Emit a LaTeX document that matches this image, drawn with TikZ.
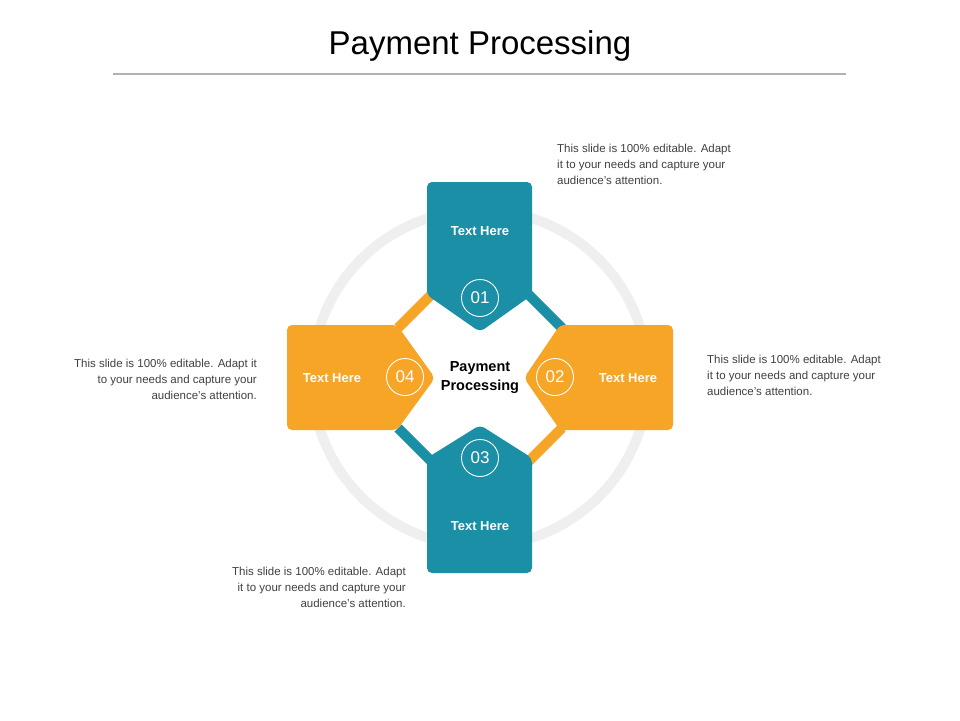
\documentclass[tikz,border=0pt]{standalone}
\usepackage{fontspec}
\setmainfont{Liberation Sans}
\definecolor{teal1}{HTML}{1A8FA5}
\definecolor{orng}{HTML}{F7A527}
\definecolor{ring}{HTML}{EFEFEF}
\definecolor{txt}{HTML}{404040}
\begin{document}
\begin{tikzpicture}[x=1pt,y=-1pt,
  blk/.style={rounded corners=5pt},
  bar/.style={line width=10pt},
  num/.style={circle,draw=white,line width=0.9pt,minimum size=37pt,inner sep=0pt,text=white,font=\fontsize{17}{17}\selectfont},
  lbl/.style={text=white,font=\bfseries\fontsize{13}{13}\selectfont},
  para/.style={text=txt,font=\fontsize{11.5}{16}\selectfont,inner sep=0pt}]
\useasboundingbox (0,0) rectangle (960,720);
\node (title) at (480,46) {\fontsize{33}{33}\selectfont Payment Processing};
\draw[gray!60,line width=2pt] (113,74) coordinate (l1) -- (846,74) coordinate (l2);
\draw[ring,line width=10pt] (480,378) circle (168);
% bars
\draw[bar,orng] (398,328) coordinate (b1) -- (432,294) coordinate (b2);
\draw[bar,teal1] (528,294) coordinate (b3) -- (562,328) coordinate (b4);
\draw[bar,teal1] (398,428) coordinate (b5) -- (432,462) coordinate (b6);
\draw[bar,orng] (528,462) coordinate (b7) -- (562,428) coordinate (b8);
% shapes
\fill[teal1,blk] (427,182) -- (532,182) -- (532,295) -- (480,332) -- (427,295) -- cycle;
\fill[teal1,blk] (480,425) -- (532,458) -- (532,573) -- (427,573) -- (427,458) -- cycle;
\fill[orng,blk] (287,325) -- (397,325) -- (435,378) -- (397,430) -- (287,430) -- cycle;
\fill[orng,blk] (524,378) -- (560,325) -- (673,325) -- (673,430) -- (560,430) -- cycle;
\node[lbl] (t1) at (480,231) {Text Here};
\node[lbl] (t3) at (480,526) {Text Here};
\node[lbl] (t4) at (332,378) {Text Here};
\node[lbl] (t2) at (628,378) {Text Here};
\node[num] (n1) at (480,298) {01};
\node[num] (n3) at (480,458) {03};
\node[num] (n4) at (405,377) {04};
\node[num] (n2) at (555,377) {02};
\node[align=center,font=\bfseries\fontsize{14.5}{19}\selectfont] (c) at (480,378) {Payment\\Processing};
\node[para,align=left,anchor=north west] (p1) at (557,144) {This slide is 100\% editable. Adapt\\it to your needs and capture your\\audience's attention.};
\node[para,align=left,anchor=north west] (p2) at (707,355) {This slide is 100\% editable. Adapt\\it to your needs and capture your\\audience's attention.};
\node[para,align=right,anchor=north east] (p4) at (257,359) {This slide is 100\% editable. Adapt it\\to your needs and capture your\\audience's attention.};
\node[para,align=right,anchor=north east] (p3) at (406,567) {This slide is 100\% editable. Adapt\\it to your needs and capture your\\audience's attention.};
\end{tikzpicture}
\end{document}
